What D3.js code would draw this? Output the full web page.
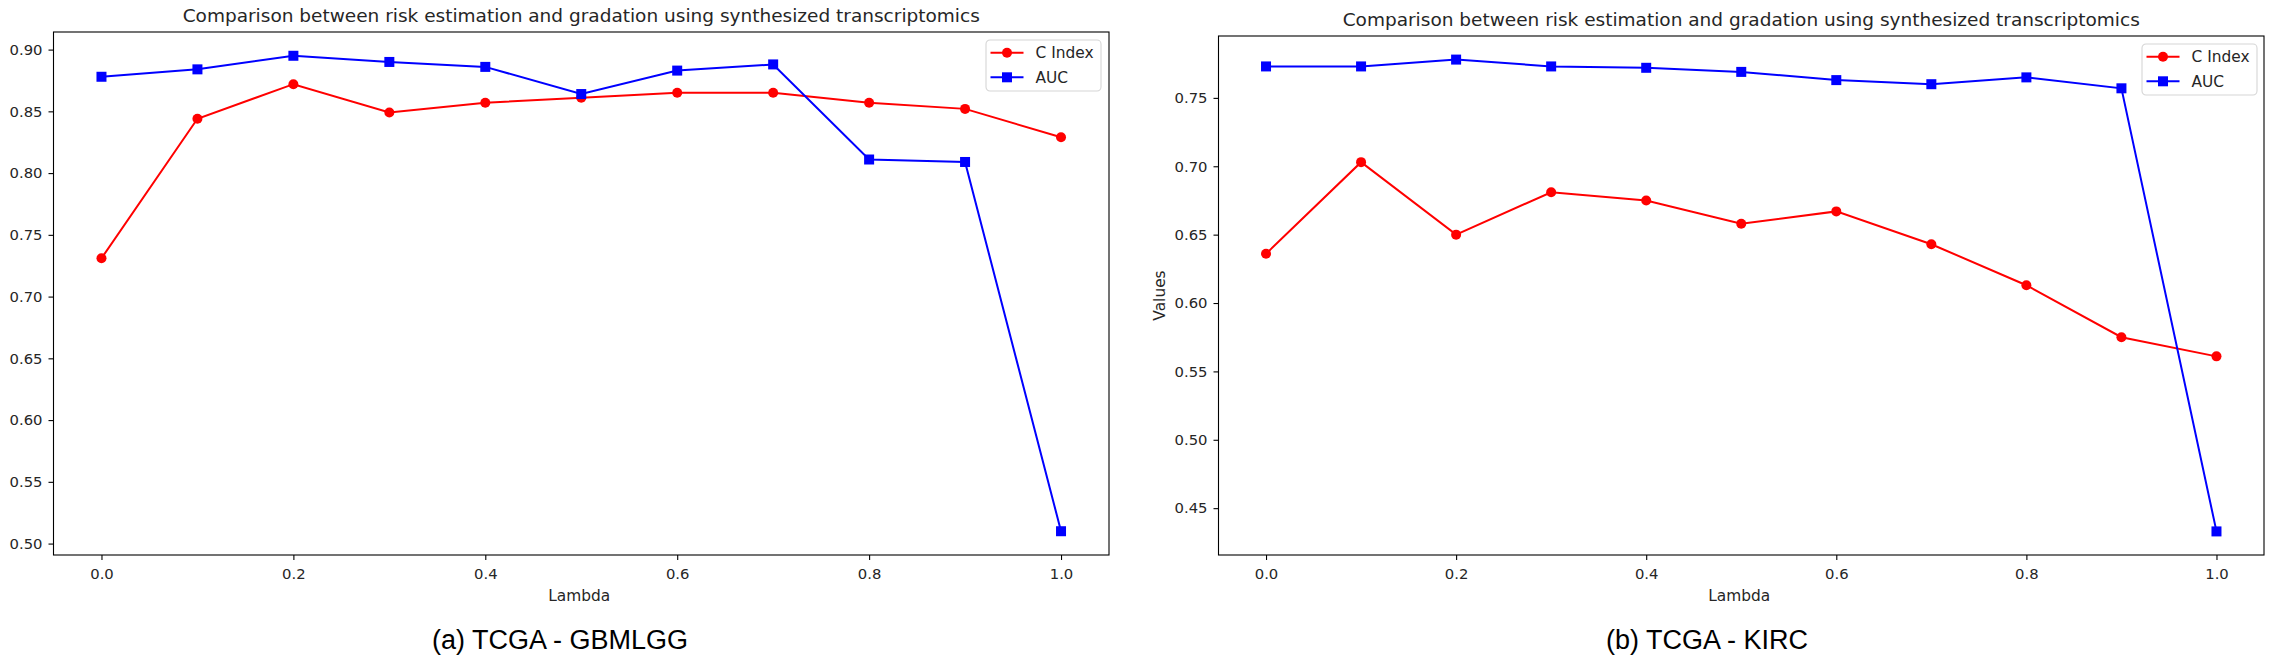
<!DOCTYPE html>
<html>
<head>
<meta charset="utf-8">
<script src="https://cdn.jsdelivr.net/npm/d3@7"></script>
<style>
  body { margin: 0; background: #fff; }
  svg text { font-family: 'DejaVu Sans', sans-serif; fill: #262626; }
</style>
</head>
<body>
<svg id="canvas" width="2275" height="667"></svg>
<script>
// lambda values on the x axis
let lambdas = [0.0, 0.1, 0.2, 0.3, 0.4, 0.5, 0.6, 0.7, 0.8, 0.9, 1.0]
let xTicks = [0.0, 0.2, 0.4, 0.6, 0.8, 1.0]
let seriesNames = ['C Index', 'AUC']

// (a) TCGA - GBMLGG
let gbmCIndex = [0.731, 0.844, 0.872, 0.849, 0.857, 0.861, 0.865, 0.865, 0.857, 0.852, 0.829]
let gbmAUC = [0.878, 0.884, 0.895, 0.890, 0.886, 0.864, 0.883, 0.888, 0.811, 0.809, 0.510]
let gbmYTicks = [0.50, 0.55, 0.60, 0.65, 0.70, 0.75, 0.80, 0.85, 0.90]

// (b) TCGA - KIRC
let kircCIndex = [0.636, 0.703, 0.650, 0.681, 0.675, 0.658, 0.667, 0.643, 0.613, 0.575, 0.561]
let kircAUC = [0.773, 0.773, 0.778, 0.773, 0.772, 0.769, 0.763, 0.760, 0.765, 0.757, 0.433]
let kircYTicks = [0.45, 0.50, 0.55, 0.60, 0.65, 0.70, 0.75]

let titleText = 'Comparison between risk estimation and gradation using synthesized transcriptomics'

let canvas = d3.select('#canvas')

let panels = [
  {left: 53.5, right: 1109, top: 32, bottom: 555, yTicks: gbmYTicks,
   series: [gbmCIndex, gbmAUC], caption: '(a) TCGA - GBMLGG', captionX: 560,
   titleY: 22, yLabel: null, legendX: 986, legendY: 40},
  {left: 1218.5, right: 2264, top: 36, bottom: 555, yTicks: kircYTicks,
   series: [kircCIndex, kircAUC], caption: '(b) TCGA - KIRC', captionX: 1707,
   titleY: 26, yLabel: 'Values', legendX: 2142, legendY: 44}
]

let colors = ['#ff0000', '#0000ff']

let drawMarker = (sel, i, size) => {
  if (i === 0) {
    sel.append('circle').attr('r', size / 2)
  } else {
    sel.append('rect').attr('x', -size / 2).attr('y', -size / 2)
       .attr('width', size).attr('height', size)
  }
}

let drawPanel = (p) => {
  let all = p.series[0].concat(p.series[1])
  let lo = d3.min(all), hi = d3.max(all), pad = (hi - lo) * 0.05

  let x = d3.scaleLinear().domain([-0.05, 1.05]).range([p.left, p.right])
  let y = d3.scaleLinear().domain([lo - pad, hi + pad]).range([p.bottom, p.top])

  let g = canvas.append('g')

  // axes
  let xAxis = g.append('g')
    .attr('transform', 'translate(0,' + p.bottom + ')')
    .call(d3.axisBottom(x).tickValues(xTicks).tickFormat(d3.format('.1f'))
      .tickSize(5).tickPadding(8).tickSizeOuter(0))
  let yAxis = g.append('g')
    .attr('transform', 'translate(' + p.left + ',0)')
    .call(d3.axisLeft(y).tickValues(p.yTicks).tickFormat(d3.format('.2f'))
      .tickSize(5).tickPadding(6).tickSizeOuter(0))

  ;[xAxis, yAxis].forEach(a => {
    a.select('.domain').remove()
    a.selectAll('line').attr('stroke', '#000').attr('stroke-width', 1.1)
    a.selectAll('text').attr('font-family', 'DejaVu Sans').attr('font-size', 14.8)
      .attr('fill', '#262626')
  })

  // frame
  g.append('rect')
    .attr('x', p.left).attr('y', p.top)
    .attr('width', p.right - p.left).attr('height', p.bottom - p.top)
    .attr('fill', 'none').attr('stroke', '#000').attr('stroke-width', 1.1)

  // lines + markers
  let line = d3.line().x((d, i) => x(lambdas[i])).y(d => y(d))
  p.series.forEach((vals, i) => {
    let s = g.append('g')
    s.append('path')
      .attr('d', line(vals))
      .attr('fill', 'none')
      .attr('stroke', colors[i])
      .attr('stroke-width', 2)
    s.selectAll('.pt')
      .data(vals)
      .enter()
      .append('g')
      .attr('class', 'pt')
      .attr('transform', (d, j) => 'translate(' + x(lambdas[j]) + ',' + y(d) + ')')
      .attr('fill', colors[i])
      .each(function () { drawMarker(d3.select(this), i, 10) })
  })

  // title
  g.append('text')
    .attr('x', (p.left + p.right) / 2).attr('y', p.titleY)
    .attr('text-anchor', 'middle')
    .attr('font-size', 18.5)
    .text(titleText)

  // x label
  g.append('text')
    .attr('x', (p.left + p.right) / 2 - 2).attr('y', 601)
    .attr('text-anchor', 'middle')
    .attr('font-size', 15.4)
    .text('Lambda')

  if (p.yLabel) {
    g.append('text')
      .attr('transform', 'translate(' + 1165 + ',' + (p.top + p.bottom) / 2 + ') rotate(-90)')
      .attr('text-anchor', 'middle')
      .attr('font-size', 15.4)
      .text(p.yLabel)
  }

  // legend
  let lg = g.append('g').attr('transform', 'translate(' + p.legendX + ',' + p.legendY + ')')
  lg.append('rect')
    .attr('width', 115).attr('height', 51).attr('rx', 4)
    .attr('fill', '#fff').attr('fill-opacity', 0.8)
    .attr('stroke', '#d6d6d6').attr('stroke-width', 1.1)
  seriesNames.forEach((name, i) => {
    let row = lg.append('g').attr('transform', 'translate(0,' + (12.7 + i * 24.6) + ')')
    row.append('line')
      .attr('x1', 4.5).attr('x2', 37.5)
      .attr('stroke', colors[i]).attr('stroke-width', 2)
    let m = row.append('g').attr('transform', 'translate(21,0)').attr('fill', colors[i])
    drawMarker(m, i, 10)
    row.append('text')
      .attr('x', 49.5).attr('y', 5.5)
      .attr('font-size', 15.4)
      .text(name)
  })

  // caption under the panel
  canvas.append('text')
    .attr('x', p.captionX).attr('y', 649)
    .attr('text-anchor', 'middle')
    .style('font-family', "'Liberation Sans', Arial, sans-serif")
    .style('fill', '#000')
    .attr('font-size', 27)
    .text(p.caption)
}

panels.forEach(p => drawPanel(p))
</script>
</body>
</html>
